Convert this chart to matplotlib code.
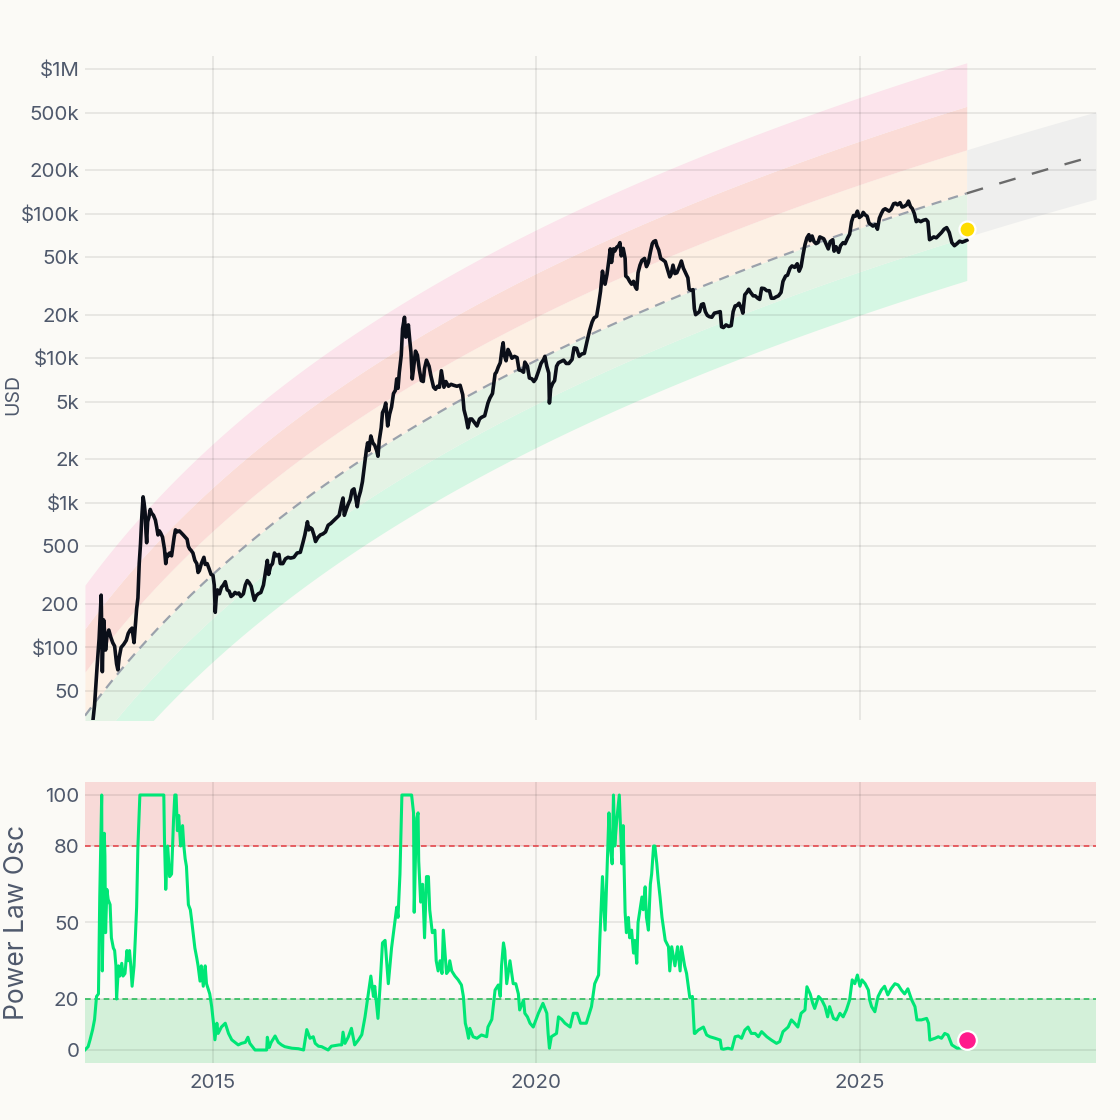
import numpy as np
import matplotlib
matplotlib.use("Agg")
import matplotlib.pyplot as plt
from matplotlib.ticker import FixedLocator, NullLocator

plt.rcParams['font.family'] = ['Inter', 'DejaVu Sans']

# ---------------- data ----------------
price_t = [
    2013.02, 2013.06, 2013.10, 2013.13, 2013.17, 2013.21, 2013.24, 2013.26, 2013.272, 2013.28,
    2013.29, 2013.30, 2013.31, 2013.33, 2013.34, 2013.36, 2013.39, 2013.42, 2013.45, 2013.48,
    2013.51, 2013.53, 2013.55, 2013.58, 2013.62, 2013.66, 2013.69, 2013.72, 2013.75, 2013.76,
    2013.78, 2013.80, 2013.82, 2013.84, 2013.86, 2013.88, 2013.90, 2013.92, 2013.935, 2013.95,
    2013.965, 2013.975, 2013.99,
    2014.01, 2014.03, 2014.05, 2014.08, 2014.11, 2014.13, 2014.15, 2014.17, 2014.19, 2014.22,
    2014.25, 2014.27, 2014.29, 2014.31, 2014.33, 2014.36, 2014.38, 2014.40, 2014.42, 2014.45,
    2014.48, 2014.51, 2014.54, 2014.57, 2014.60, 2014.62, 2014.64, 2014.66, 2014.69, 2014.72,
    2014.75, 2014.77, 2014.79, 2014.82, 2014.86, 2014.88, 2014.91, 2014.94, 2014.97,
    2015.00, 2015.02, 2015.035, 2015.05, 2015.07, 2015.10, 2015.13, 2015.16, 2015.19, 2015.22,
    2015.25, 2015.28, 2015.31, 2015.34, 2015.37, 2015.40, 2015.43, 2015.47, 2015.50, 2015.53,
    2015.56, 2015.59, 2015.62, 2015.64, 2015.67, 2015.70, 2015.74, 2015.78, 2015.81, 2015.84,
    2015.86, 2015.89, 2015.92, 2015.95, 2015.98,
    2016.02, 2016.04, 2016.08, 2016.12, 2016.16, 2016.20, 2016.25, 2016.30, 2016.35, 2016.39,
    2016.42, 2016.46, 2016.48, 2016.50, 2016.53, 2016.56, 2016.585, 2016.62, 2016.66, 2016.70,
    2016.74, 2016.78, 2016.82, 2016.86, 2016.90, 2016.95, 2016.99,
    2017.01, 2017.03, 2017.06, 2017.09, 2017.12, 2017.15, 2017.18, 2017.21, 2017.23, 2017.25,
    2017.28, 2017.31, 2017.34, 2017.37, 2017.39, 2017.41, 2017.44, 2017.47, 2017.50, 2017.53,
    2017.55, 2017.57, 2017.60, 2017.62, 2017.65, 2017.67, 2017.70, 2017.73, 2017.76, 2017.79,
    2017.82, 2017.84, 2017.86, 2017.88, 2017.91, 2017.93, 2017.96, 2017.98,
    2018.00, 2018.02, 2018.04, 2018.06, 2018.08, 2018.10, 2018.13, 2018.16, 2018.19, 2018.22,
    2018.25, 2018.27, 2018.30, 2018.34, 2018.37, 2018.41, 2018.44, 2018.47, 2018.50, 2018.53,
    2018.57, 2018.60, 2018.64, 2018.68, 2018.72, 2018.77, 2018.82, 2018.86, 2018.88, 2018.91,
    2018.94, 2018.97,
    2019.00, 2019.04, 2019.08, 2019.12, 2019.15, 2019.20, 2019.25, 2019.28, 2019.32, 2019.36,
    2019.38, 2019.41, 2019.44, 2019.47, 2019.485, 2019.50, 2019.53, 2019.56, 2019.59, 2019.62,
    2019.66, 2019.70, 2019.73, 2019.77, 2019.80, 2019.82, 2019.86, 2019.89, 2019.93, 2019.96,
    2019.99,
    2020.03, 2020.07, 2020.11, 2020.13, 2020.16, 2020.19, 2020.20, 2020.22, 2020.25, 2020.28,
    2020.31, 2020.34, 2020.38, 2020.42, 2020.46, 2020.50, 2020.55, 2020.58, 2020.62, 2020.66,
    2020.70, 2020.74, 2020.78, 2020.82, 2020.86, 2020.89, 2020.93, 2020.96, 2020.99,
    2021.02, 2021.04, 2021.06, 2021.09, 2021.12, 2021.14, 2021.16, 2021.19, 2021.21, 2021.24,
    2021.27, 2021.29, 2021.31, 2021.34, 2021.37, 2021.38, 2021.41, 2021.44, 2021.47, 2021.50,
    2021.53, 2021.55, 2021.57, 2021.60, 2021.63, 2021.67, 2021.70, 2021.73, 2021.76, 2021.79,
    2021.81, 2021.84, 2021.86, 2021.89, 2021.92, 2021.95, 2021.99,
    2022.02, 2022.06, 2022.08, 2022.11, 2022.14, 2022.17, 2022.20, 2022.24, 2022.27, 2022.31,
    2022.34, 2022.36, 2022.39, 2022.42, 2022.44, 2022.46, 2022.49, 2022.52, 2022.55, 2022.58,
    2022.61, 2022.64, 2022.67, 2022.71, 2022.75, 2022.79, 2022.84, 2022.86, 2022.89, 2022.93,
    2022.97,
    2023.01, 2023.04, 2023.07, 2023.10, 2023.13, 2023.17, 2023.19, 2023.22, 2023.25, 2023.28,
    2023.31, 2023.35, 2023.38, 2023.42, 2023.45, 2023.48, 2023.52, 2023.56, 2023.60, 2023.63,
    2023.67, 2023.70, 2023.74, 2023.78, 2023.81, 2023.85, 2023.88, 2023.92, 2023.95, 2023.99,
    2024.03, 2024.06, 2024.09, 2024.12, 2024.15, 2024.18, 2024.21, 2024.23, 2024.26, 2024.29,
    2024.32, 2024.35, 2024.38, 2024.41, 2024.44, 2024.48, 2024.51, 2024.54, 2024.58, 2024.60,
    2024.63, 2024.67, 2024.70, 2024.74, 2024.77, 2024.81, 2024.84, 2024.87, 2024.90, 2024.93,
    2024.96, 2024.99,
    2025.03, 2025.05, 2025.08, 2025.11, 2025.14, 2025.17, 2025.20, 2025.24, 2025.27, 2025.30,
    2025.33, 2025.36, 2025.39, 2025.42, 2025.45, 2025.48, 2025.52, 2025.55, 2025.58, 2025.62,
    2025.65, 2025.68, 2025.72, 2025.75, 2025.78, 2025.81, 2025.84, 2025.87, 2025.90, 2025.94,
    2025.98,
    2026.02, 2026.05, 2026.075, 2026.10, 2026.14, 2026.18, 2026.22, 2026.26, 2026.30, 2026.34,
    2026.38, 2026.42, 2026.46, 2026.50, 2026.54, 2026.58, 2026.62, 2026.65,
]
price_usd = [
    13.5, 17, 22, 27, 40, 75, 115, 180, 230, 130,
    68, 110, 155, 120, 96, 118, 132, 118, 108, 102,
    77, 70, 85, 100, 105, 112, 125, 132, 136, 125,
    108, 140, 185, 220, 380, 520, 800, 1100, 1000, 870,
    620, 530, 740,
    800, 900, 850, 820, 760, 680, 600, 640, 620, 580,
    480, 380, 440, 430, 450, 430, 500, 580, 650, 630,
    640, 620, 600, 580, 560, 500, 480, 470, 450, 400,
    380, 330, 340, 380, 420, 375, 380, 350, 320,
    315, 270, 175, 220, 250, 235, 260, 270, 285, 250,
    245, 225, 230, 240, 235, 238, 225, 235, 270, 290,
    280, 265, 230, 212, 228, 235, 240, 270, 330, 400,
    320, 365, 380, 450, 430,
    440, 380, 380, 410, 420, 415, 420, 450, 455, 530,
    600, 740, 650, 675, 660, 600, 540, 575, 600, 610,
    630, 700, 720, 750, 780, 820, 1000,
    1080, 820, 900, 980, 1050, 1220, 1250, 1050, 940, 1080,
    1200, 1400, 1800, 2300, 2600, 2300, 2900, 2600, 2500, 2300,
    2100, 2700, 3300, 4200, 4500, 4900, 3400, 4100, 4600, 5700,
    6000, 7200, 6200, 8000, 10500, 16000, 19200, 14000,
    14500, 17000, 13500, 11000, 7200, 8500, 11200, 10500, 8300, 7000,
    6900, 8500, 9700, 8800, 7500, 6300, 6100, 6400, 6300, 8200,
    6300, 6900, 6400, 6600, 6500, 6400, 6500, 5600, 4400, 3900,
    3300, 3800,
    3800, 3600, 3400, 3800, 3900, 4000, 4900, 5300, 5700, 7800,
    8000, 8700, 9300, 11800, 12800, 10600, 9600, 11500, 10800, 10000,
    10300, 10100, 8300, 8200, 8000, 9400, 8800, 7300, 7200, 6900,
    7200,
    8100, 9200, 9800, 10300, 8800, 7900, 4900, 6200, 6700, 7000,
    8800, 9300, 9500, 9700, 9200, 9200, 9800, 11800, 11700, 10300,
    10700, 10800, 13000, 15500, 17800, 19000, 19500, 23500, 29000,
    40000, 35000, 32500, 38000, 48000, 57000, 46000, 57000, 55000, 58500,
    60000, 63000, 51000, 57500, 49000, 37000, 36000, 34000, 32500, 34000,
    31000, 30000, 39000, 44000, 47500, 49000, 43000, 46000, 54000, 62000,
    64000, 65000, 60000, 56000, 49000, 48000, 46500,
    42000, 36500, 38000, 44000, 38500, 39000, 42000, 47000, 42000, 38500,
    36000, 30000, 29500, 29800, 22000, 20000, 20500, 21000, 23500, 23800,
    21000, 19800, 19400, 19200, 20500, 20700, 21000, 16500, 16300, 17000,
    16600,
    16800, 21000, 23000, 23200, 24000, 22000, 20500, 27500, 28500, 30000,
    28500, 27000, 27000, 26000, 25500, 30500, 30300, 29300, 29300, 26000,
    26000, 26500, 27000, 28500, 34000, 37000, 37500, 42000, 43500, 42500,
    45000, 40000, 43000, 52000, 61000, 68000, 71500, 65000, 70000, 64000,
    62000, 63000, 69000, 68000, 67000, 61000, 57000, 64000, 66000, 55000,
    59000, 54000, 60000, 63000, 62000, 68000, 72000, 88000, 97000, 96000,
    104000, 94000,
    97000, 102000, 98000, 96000, 86000, 84000, 82000, 84000, 78000, 93000,
    100000, 106000, 108000, 106000, 104000, 107000, 117000, 118000, 115000, 119000,
    111000, 112000, 115000, 122000, 112000, 108000, 100000, 88000, 90000, 88000,
    90000,
    91000, 88000, 66000, 67000, 69000, 68000, 71000, 74000, 78000, 80000,
    74000, 63000, 60000, 62000, 64500, 63500, 64500, 65500,
]

osc_t = [
    2013.02, 2013.07, 2013.10, 2013.14, 2013.17, 2013.20, 2013.23, 2013.25, 2013.28, 2013.29,
    2013.32, 2013.33, 2013.34, 2013.36, 2013.38, 2013.41, 2013.43, 2013.46, 2013.48, 2013.50,
    2013.51, 2013.54, 2013.56, 2013.59, 2013.61, 2013.64, 2013.67, 2013.69, 2013.71, 2013.73,
    2013.75, 2013.78, 2013.80, 2013.82, 2013.84, 2013.87,
    2014.24, 2014.25, 2014.27, 2014.30, 2014.33, 2014.36, 2014.39, 2014.41, 2014.43, 2014.45,
    2014.47, 2014.50, 2014.53, 2014.55, 2014.57, 2014.59, 2014.62, 2014.65, 2014.67, 2014.72,
    2014.75, 2014.77, 2014.80, 2014.82, 2014.85, 2014.88, 2014.90, 2014.95, 2014.98,
    2015.01, 2015.03, 2015.06, 2015.08, 2015.11, 2015.13, 2015.17, 2015.19, 2015.24, 2015.29,
    2015.34, 2015.39, 2015.44, 2015.50, 2015.54, 2015.57, 2015.62, 2015.65, 2015.83, 2015.84,
    2015.87, 2015.90, 2015.96,
    2016.01, 2016.06, 2016.11, 2016.22, 2016.32, 2016.40, 2016.45, 2016.50, 2016.55, 2016.58,
    2016.63, 2016.68, 2016.78, 2016.83, 2016.95, 2016.99,
    2017.01, 2017.04, 2017.09, 2017.14, 2017.19, 2017.25, 2017.30, 2017.35, 2017.40, 2017.44,
    2017.48, 2017.50, 2017.55, 2017.58, 2017.62, 2017.66, 2017.71, 2017.76, 2017.81, 2017.84,
    2017.86, 2017.89, 2017.92,
    2018.07, 2018.10, 2018.11, 2018.13, 2018.15, 2018.17, 2018.18, 2018.21, 2018.24, 2018.27,
    2018.30, 2018.33, 2018.35, 2018.39, 2018.43, 2018.45, 2018.48, 2018.51, 2018.54, 2018.56,
    2018.59, 2018.61, 2018.64, 2018.66, 2018.69, 2018.74, 2018.79, 2018.84, 2018.87, 2018.90,
    2018.92, 2018.95, 2018.97,
    2019.02, 2019.08, 2019.15, 2019.23, 2019.25, 2019.31, 2019.36, 2019.41, 2019.44, 2019.46,
    2019.49, 2019.51, 2019.54, 2019.59, 2019.64, 2019.68, 2019.72, 2019.74, 2019.80, 2019.82,
    2019.86, 2019.90, 2019.95,
    2020.03, 2020.10, 2020.16, 2020.18, 2020.20, 2020.23, 2020.31, 2020.34, 2020.39, 2020.44,
    2020.52, 2020.57, 2020.63, 2020.68, 2020.77, 2020.85, 2020.90, 2020.96, 2020.98,
    2021.02, 2021.06, 2021.12, 2021.14, 2021.17, 2021.19, 2021.21, 2021.24, 2021.28, 2021.32,
    2021.34, 2021.37, 2021.39, 2021.42, 2021.44, 2021.47, 2021.50, 2021.52, 2021.55, 2021.57,
    2021.60, 2021.63, 2021.65, 2021.68, 2021.70, 2021.73, 2021.76, 2021.78, 2021.81, 2021.83,
    2021.86, 2021.88, 2021.91, 2021.94, 2021.99,
    2022.04, 2022.06, 2022.09, 2022.14, 2022.18, 2022.22, 2022.24, 2022.29, 2022.32, 2022.37,
    2022.41, 2022.44, 2022.45, 2022.50, 2022.58, 2022.63, 2022.68, 2022.76, 2022.84, 2022.86,
    2022.89, 2022.96,
    2023.02, 2023.07, 2023.12, 2023.17, 2023.22, 2023.27, 2023.32, 2023.38, 2023.43, 2023.48,
    2023.56, 2023.63, 2023.71, 2023.76, 2023.81, 2023.89, 2023.94, 2023.99,
    2024.04, 2024.09, 2024.15, 2024.18, 2024.23, 2024.27, 2024.30, 2024.36, 2024.41, 2024.46,
    2024.50, 2024.53, 2024.59, 2024.64, 2024.69, 2024.74, 2024.79, 2024.84, 2024.88, 2024.92,
    2024.96,
    2025.00, 2025.03, 2025.08, 2025.13, 2025.15, 2025.18, 2025.23, 2025.28, 2025.33, 2025.38,
    2025.43, 2025.48, 2025.54, 2025.59, 2025.64, 2025.69, 2025.74, 2025.80, 2025.85, 2025.88,
    2025.95,
    2026.03, 2026.06, 2026.08, 2026.16, 2026.21, 2026.26, 2026.31, 2026.36, 2026.42, 2026.50,
    2026.58, 2026.65,
]
osc_value = [
    0, 1.3, 4, 8, 12, 21, 22, 60, 100, 31,
    85, 76, 46, 63, 59, 57, 44, 40, 39, 33,
    20, 33, 29, 34, 29, 30, 39, 35, 39, 33,
    25, 33, 44, 56, 80, 100,
    100, 83, 63, 80, 68, 69, 90, 100, 100, 86,
    92, 80, 88, 80, 75, 72, 57, 55, 51, 40,
    36, 33, 27, 33, 25, 33, 26, 22, 17,
    10, 4, 10.5, 6.5, 8, 9, 10, 10.5, 6.5, 4,
    3, 2, 2.6, 3, 5, 2.6, 1, 0, 0, 5,
    1, 3, 5.5,
    3, 2, 1.3, 0.7, 0.5, 0, 8, 4.6, 5.2, 2.6,
    1.5, 1.3, 0, 1.5, 2, 2,
    7, 2.6, 5, 8.5, 2, 4, 6, 13, 22, 29,
    21, 25, 12.4, 24, 42, 43, 26, 40, 50, 56,
    52, 69, 100,
    100, 93, 54, 76, 91, 93, 74, 58, 65, 44,
    68, 68, 55, 46, 47, 35, 31, 35, 30, 47,
    37, 30, 31, 35, 31, 29, 27.5, 25.5, 21, 10.5,
    8.5, 4.6, 8.5,
    5.2, 4.6, 5.9, 5.2, 9, 12, 23.5, 25.5, 21, 33,
    42, 39, 26, 35, 26, 26, 22, 15.7, 19.6, 14.4,
    13, 10.5, 9,
    14.4, 18.3, 14.4, 6.5, 0.7, 5.2, 6.5, 13, 12, 10.5,
    9, 14.4, 14.4, 10.5, 10.5, 17, 26, 29.4, 44,
    68, 47, 93, 80, 73, 100, 80, 90, 100, 73,
    88, 54, 46, 52, 44, 47, 38, 43, 34, 50,
    55, 60, 55, 64, 52, 47, 65, 69, 80, 80,
    73, 67, 60, 52, 43,
    40.5, 31, 40.5, 33, 40.5, 31, 40.5, 33, 30, 20.5,
    21, 6.5, 6.5, 7.8, 9, 5.9, 5.2, 4.6, 3.9, 0.5,
    0.3, 0.7,
    0.3, 5.2, 5.5, 4.6, 7.8, 9, 6.5, 6.5, 5.2, 7.2,
    5.2, 3.9, 2.6, 3.3, 7.2, 9, 11.8, 10.5,
    9, 14.4, 15.7, 24.8, 22, 18.3, 16.3, 21, 19.6, 17,
    13, 17, 12.4, 11.8, 14.4, 13, 15.7, 19.6, 27.5, 26,
    29.4,
    25, 27.5, 26, 23.5, 19.6, 17, 15, 21, 23.5, 25,
    21.6, 24, 26, 25.5, 23.5, 22, 24, 19.6, 17, 11.8,
    11.8,
    12.4, 10.5, 3.9, 4.6, 5.2, 4.6, 6.5, 5.9, 2, 0.7,
    0.8, 1,
]

# power-law fair-value model (fitted to the dashed line) and its bands
pl_log10_coef = -16.264
pl_exponent = 5.619
genesis_year = 2009.0055
band_multipliers = [0.25, 0.5, 1, 2, 4, 8]
band_colors = ['#d6f7e4', '#e4f3e5', '#fdf0e4', '#fbdcd7', '#fce4ec']
future_band = [0.5, 2]
last_date = 2026.65
end_date = 2028.65
price_marker = 78000
osc_marker = 4

usd_ticks = [50, 100, 200, 500, 1e3, 2e3, 5e3, 1e4, 2e4, 5e4, 1e5, 2e5, 5e5, 1e6]
usd_labels = ['50', '$100', '200', '500', '$1k', '2k', '5k', '$10k', '20k', '50k',
              '$100k', '200k', '500k', '$1M']
osc_ticks = [0, 20, 50, 80, 100]
year_ticks = [2015, 2020, 2025]
year_labels = ['2015', '2020', '2025']

assert len(price_t) == len(price_usd)
assert len(osc_t) == len(osc_value)

# ---------------- drawing ----------------
BG = '#fbfaf6'
TXT = '#4f596c'


def fair_value(t):
    days = (np.asarray(t, dtype=float) - genesis_year) * 365.25
    return 10 ** (pl_log10_coef + pl_exponent * np.log10(days))


fig = plt.figure(figsize=(11.2, 11.2), dpi=100, facecolor=BG)
W = H = 1120.0
ax1 = fig.add_axes([85 / W, 1 - 720 / H, 1011 / W, 664 / H], facecolor=BG)
ax2 = fig.add_axes([85 / W, 1 - 1063 / H, 1011 / W, 281 / H], facecolor=BG)

xlim = (2013.022, 2028.648)

# --- top panel ---
t_hist = np.linspace(xlim[0], last_date, 400)
t_fut = np.linspace(last_date, 2028.52, 80)
fv_hist = fair_value(t_hist)
fv_fut = fair_value(t_fut)
t_band_fut = np.linspace(last_date, end_date, 80)
fv_band_fut = fair_value(t_band_fut)
for lo, hi, col in zip(band_multipliers[:-1], band_multipliers[1:], band_colors):
    ax1.fill_between(t_hist, fv_hist * lo, fv_hist * hi, color=col, lw=0, zorder=0.3)
ax1.fill_between(t_band_fut, fv_band_fut * future_band[0], fv_band_fut * future_band[1],
                 color='#efefee', lw=0, zorder=0.3)

ax1.plot(t_hist, fv_hist, color='#9aa1ab', lw=1.6, dashes=(4.6, 3.2), zorder=2)
ax1.plot(t_fut, fv_fut, color='#6b6b6b', lw=1.7, dashes=(7.2, 7.2), zorder=2)

ax1.plot(price_t, price_usd, color='#0b0f19', lw=2.6, zorder=3, solid_joinstyle='round')
ax1.plot([last_date], [price_marker], 'o', ms=11.5, mfc='#ffdd00', mec='white', mew=1.6,
         zorder=5, clip_on=False)

ax1.set_yscale('log')
ax1.set_xlim(*xlim)
ax1.set_ylim(31.5, 1.23e6)
ax1.yaxis.set_major_locator(FixedLocator(usd_ticks))
ax1.yaxis.set_minor_locator(NullLocator())
ax1.set_yticklabels(usd_labels)
ax1.xaxis.set_major_locator(FixedLocator(year_ticks))
ax1.tick_params(axis='both', length=0, labelsize=14.8, labelcolor=TXT, pad=4)
ax1.tick_params(axis='x', labelbottom=False)
ax1.grid(True, color='black', alpha=0.09, lw=1.2)
ax1.set_ylabel('USD', fontsize=14, color=TXT)
ax1.yaxis.set_label_coords(-0.062, 0.49)

# --- bottom panel ---
ax2.axhspan(80, 106, color='#f8dad8', lw=0, zorder=0.3)
ax2.axhspan(-6, 20, color='#d3f0d9', lw=0, zorder=0.3)
ax2.axhline(80, color='#e5484d', lw=1.2, dashes=(3.4, 2.2), zorder=1.8)
ax2.axhline(20, color='#2dbd5e', lw=1.2, dashes=(3.4, 2.2), zorder=1.8)
ax2.plot(osc_t, osc_value, color='#00e676', lw=2.2, zorder=3, solid_joinstyle='round')
ax2.plot([last_date], [osc_marker], 'o', ms=13.5, mfc='#ff1a8c', mec='white', mew=1.6,
         zorder=5, clip_on=False)

ax2.set_xlim(*xlim)
ax2.set_ylim(-5.1, 105.1)
ax2.yaxis.set_major_locator(FixedLocator(osc_ticks))
ax2.xaxis.set_major_locator(FixedLocator(year_ticks))
ax2.set_xticklabels(year_labels)
ax2.tick_params(axis='both', length=0, labelsize=14.8, labelcolor=TXT)
ax2.tick_params(axis='y', pad=4)
ax2.tick_params(axis='x', pad=8)
ax2.grid(True, color='black', alpha=0.09, lw=1.2)
ax2.set_ylabel('Power Law Osc', fontsize=19, color=TXT)
ax2.yaxis.set_label_coords(-0.054, 0.5)

for ax in (ax1, ax2):
    for s in ax.spines.values():
        s.set_visible(False)

fig.savefig('out.png', dpi=100, facecolor=BG)
